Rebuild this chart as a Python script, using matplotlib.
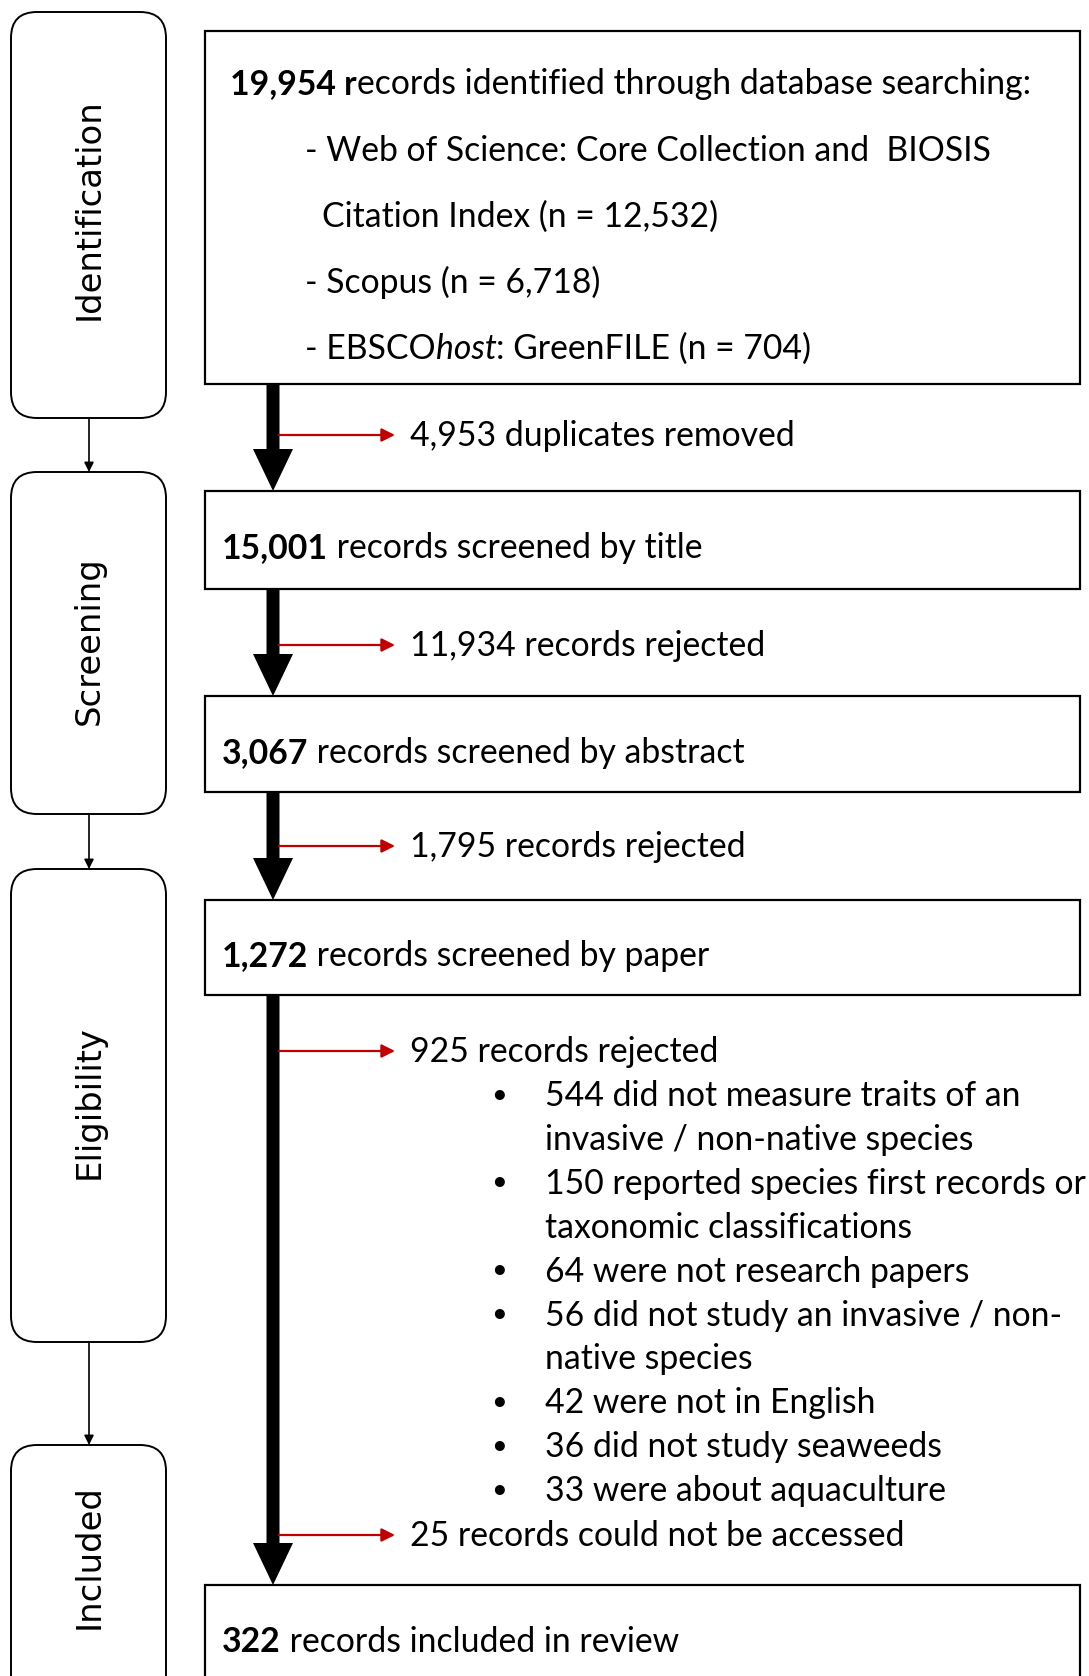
import matplotlib
matplotlib.use('Agg')
import matplotlib.pyplot as plt
from matplotlib.patches import FancyBboxPatch, Rectangle

# ---- data ----
stages = ['Identification', 'Screening', 'Eligibility', 'Included']
identified = 19954
sources = ['Web of Science: Core Collection and  BIOSIS', 'Scopus', 'EBSCO']
source_n = [12532, 6718, 704]
duplicates = 4953
screened_title = 15001
rejected_title = 11934
screened_abstract = 3067
rejected_abstract = 1795
screened_paper = 1272
rejected_paper = 925
reason_n = [544, 150, 64, 56, 42, 36, 33]
reason_txt = [['did not measure traits of an', 'invasive / non-native species'],
              ['reported species first records or', 'taxonomic classifications'],
              ['were not research papers'],
              ['did not study an invasive / non-', 'native species'],
              ['were not in English'],
              ['did not study seaweeds'],
              ['were about aquaculture']]
not_accessed = 25
included = 322

W, H = 1089, 1676
FONT = 'Lato'
FS = 24.3
RED = '#C00000'

fig = plt.figure(figsize=(W / 100, H / 100), dpi=100)
ax = fig.add_axes([0, 0, 1, 1])
ax.set_xlim(0, W)
ax.set_ylim(H, 0)
ax.axis('off')
renderer = fig.canvas.get_renderer()


def rich(x, y, parts, size=FS):
    # draw text pieces one after another on a shared baseline
    for s, kw in parts:
        t = ax.text(x, y + 11, s, fontsize=size, family=FONT, va='baseline', ha='left', **kw)
        x += t.get_window_extent(renderer).width


def num(n):
    return f'{n:,}'


# stage boxes (left column)
stage_y = [(12, 418), (472, 814), (869, 1342), (1445, 1720)]
label_y = [209, 641, 1102, 1557]
for name, (y0, y1), ly in zip(stages, stage_y, label_y):
    ax.add_patch(FancyBboxPatch((11, y0), 155, y1 - y0,
                                boxstyle='round,pad=0,rounding_size=26',
                                fc='white', ec='black', lw=1.4))
    ax.text(89, ly, name, rotation=90, ha='center', va='center',
            fontsize=24.4, family='DejaVu Sans')
for (a0, a1), (b0, b1) in zip(stage_y[:-1], stage_y[1:]):
    ax.annotate('', xy=(89, b0), xytext=(89, a1),
                arrowprops=dict(arrowstyle='-|>', lw=1.2, color='black',
                                mutation_scale=14, shrinkA=0, shrinkB=0))

# main boxes
box_y = [(31, 384), (491, 589), (696, 792), (900, 995), (1585, 1720)]
for y0, y1 in box_y:
    ax.add_patch(Rectangle((205, y0), 875, y1 - y0, fc='white', ec='black', lw=1.6))

# thick down arrows
for (a0, a1), (b0, b1) in zip(box_y[:-1], box_y[1:]):
    ax.arrow(273, a1, 0, b0 - a1, width=13, head_width=40, head_length=42,
             length_includes_head=True, fc='black', ec='black', lw=0)

# red side arrows
for ry in [435, 645, 846, 1051, 1535]:
    ax.annotate('', xy=(395, ry), xytext=(279, ry),
                arrowprops=dict(arrowstyle='-|>', lw=1.6, color=RED,
                                mutation_scale=20, shrinkA=0, shrinkB=0))

B = dict(weight='bold')
N = dict()
I = dict(style='italic')

# box 1
rich(230, 83, [(num(identified) + ' r', B), ('ecords identified through database searching:', N)])
rich(305, 150, [('- ' + sources[0], N)])
rich(322, 216, [('Citation Index (n = ' + num(source_n[0]) + ')', N)])
rich(305, 282, [('- ' + sources[1] + ' (n = ' + num(source_n[1]) + ')', N)])
rich(305, 348, [('- ' + sources[2], N), ('host', I), (': GreenFILE (n = ' + num(source_n[2]) + ')', N)])

rich(222, 547, [(num(screened_title), B), (' records screened by title', N)])
rich(222, 752, [(num(screened_abstract), B), (' records screened by abstract', N)])
rich(222, 955, [(num(screened_paper), B), (' records screened by paper', N)])
rich(222, 1641, [(num(included), B), (' records included in review', N)])

rich(410, 435, [(num(duplicates) + ' duplicates removed', N)])
rich(410, 645, [(num(rejected_title) + ' records rejected', N)])
rich(410, 846, [(num(rejected_abstract) + ' records rejected', N)])
rich(410, 1051, [(num(rejected_paper) + ' records rejected', N)])
rich(410, 1535, [(num(not_accessed) + ' records could not be accessed', N)])

# bullet list of rejection reasons
y = 1095
for n, lines in zip(reason_n, reason_txt):
    ax.text(499, y, '\u2022', fontsize=FS * 0.8, family=FONT, ha='center', va='center')
    rich(545, y, [(f'{n} ' + lines[0], N)])
    y += 43.9
    for extra in lines[1:]:
        rich(545, y, [(extra, N)])
        y += 43.9

fig.savefig('out.png', dpi=100, facecolor='white')
